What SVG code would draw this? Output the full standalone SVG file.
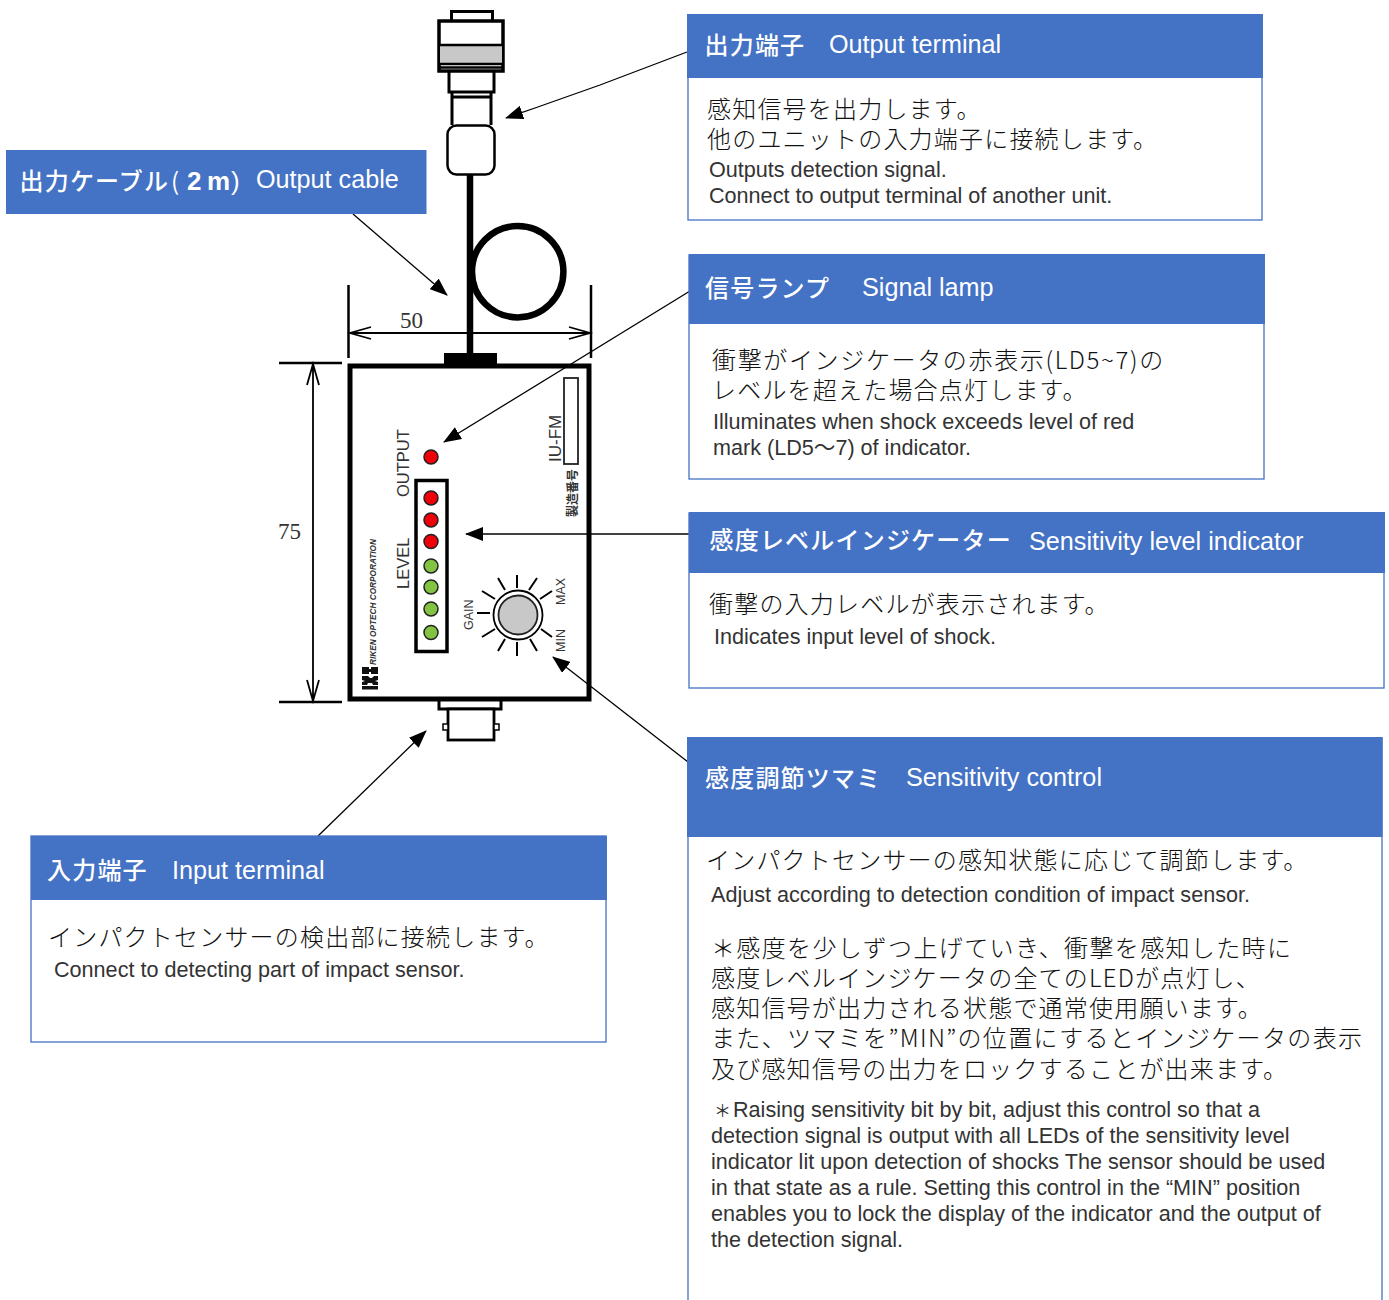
<svg xmlns="http://www.w3.org/2000/svg" width="1389" height="1300" viewBox="0 0 1389 1300">
<style>
.j{font-family:"Noto Sans CJK JP","Liberation Sans",sans-serif}
.h{font-family:"Noto Sans CJK JP","Liberation Sans",sans-serif;font-size:24px;font-weight:500;fill:#fff;letter-spacing:1.200px}
.he{font-family:"Liberation Sans",Arial,sans-serif;font-size:25.200px;fill:#fff}
.b{font-family:"Noto Sans CJK JP",sans-serif;font-size:24px;font-weight:300;fill:#111;letter-spacing:1.200px}
.e{font-family:"Liberation Sans",Arial,"Noto Sans CJK JP",sans-serif;font-size:21.600px;fill:#333}
.hd{fill:#4472c4;stroke:none}
.box{fill:#fff;stroke:#4472c4;stroke-width:1.300}
.lb{font-family:"Liberation Sans",Arial,sans-serif;fill:#333}
.dim{font-family:"Liberation Serif",serif;font-size:23px;fill:#333}
.k{fill:none;stroke:#000}
.r{fill:#f00008;stroke:#222;stroke-width:1.500}
.g{fill:#82c341;stroke:#222;stroke-width:1.500}
</style>
<defs>
<marker id="a" markerWidth="18" markerHeight="14" refX="17" refY="7" orient="auto" markerUnits="userSpaceOnUse"><path d="M0 0L18 7L0 14z" fill="#000"/></marker>
</defs>

<g id="device">
<rect x="451.500" y="11.500" width="41" height="10" class="k" stroke-width="3" fill="#fff"/>
<rect x="439" y="21" width="64" height="50" fill="#fff" stroke="#000" stroke-width="3.500"/>
<rect x="440" y="45" width="62" height="19" fill="#c8c8c8"/>
<path d="M439 45H503M439 64H503M439 67.500H503" class="k" stroke-width="2.500"/>
<path d="M449 71V92H494V71M452 92V125M491 92V125M451 97H492" class="k" stroke-width="3"/>
<rect x="447.500" y="125.500" width="47" height="49" rx="9" fill="#fff" stroke="#000" stroke-width="2.500"/>
<path d="M470 175V356" class="k" stroke-width="6.500"/>
<circle cx="517.700" cy="271.700" r="45.700" class="k" stroke-width="6.500"/>
<path d="M348.500 285V358M591 285V358" class="k" stroke-width="2.500"/>
<path d="M350 333H590M371 327L350 333L371 339M569 327L590 333L569 339" class="k" stroke-width="1.800"/>
<text x="400" y="328" class="dim">50</text>
<path d="M279 363H342M279 702H342" class="k" stroke-width="2.500"/>
<path d="M313 364V701M307 385L313 364L319 385M307 680L313 701L319 680" class="k" stroke-width="1.800"/>
<text x="278" y="539" class="dim">75</text>
<rect x="444" y="353" width="53" height="13" fill="#000"/>
<rect x="350" y="366" width="239" height="333" fill="#fff" stroke="#000" stroke-width="5"/>
<rect x="564" y="378" width="14" height="86" fill="#fff" stroke="#222" stroke-width="1.800"/>
<text transform="translate(561 462) rotate(-90)" class="lb" font-size="17">IU-FM</text>
<text transform="translate(577 517) rotate(-90)" class="j" font-size="12" font-weight="700" fill="#333">製造番号</text>
<text transform="translate(409 497) rotate(-90)" class="lb" font-size="16.500">OUTPUT</text>
<text transform="translate(409 589) rotate(-90)" class="lb" font-size="16.500">LEVEL</text>
<circle cx="431" cy="457" r="7" class="r"/>
<rect x="416" y="480.500" width="31" height="171" fill="#fff" stroke="#000" stroke-width="3.500"/>
<circle cx="431" cy="498" r="7" class="r"/><circle cx="431" cy="520" r="7" class="r"/><circle cx="431" cy="541.500" r="7" class="r"/>
<circle cx="431" cy="566" r="7" class="g"/><circle cx="431" cy="587" r="7" class="g"/><circle cx="431" cy="609" r="7" class="g"/><circle cx="431" cy="632.500" r="7" class="g"/>
<text transform="translate(473 630) rotate(-90)" class="lb" font-size="12.500">GAIN</text>
<text transform="translate(565 605) rotate(-90)" class="lb" font-size="12.500">MAX</text>
<text transform="translate(565 652) rotate(-90)" class="lb" font-size="12.500">MIN</text>
<text transform="translate(376 665) rotate(-90)" class="lb" font-size="8.500" font-style="italic" font-weight="700" textLength="126" lengthAdjust="spacingAndGlyphs">RIKEN OPTECH CORPORATION</text>
<path d="M362 667h7v2h2v-2h7v7h-7v-2h-2v2h-7zM362 676h6l2 2h2l2-2h4v4l-3 1 3 1v3h-5l-1-2h-4l-1 2h-5v-3l3-1-3-1zM362 686h16v3.500h-16z" fill="#111"/>
<path d="M517 575V588M517 642V656M477 613H490M498 578L505 590M537 578L529 590M482 591L495 599M552 591L540 599M482 637L495 629M552 637L541 629M498 651L505 639M537 651L530 639" class="k" stroke-width="2"/>
<circle cx="518" cy="615" r="24.500" fill="#fff" stroke="#000" stroke-width="1.800"/>
<circle cx="518" cy="615" r="19.500" fill="#c8c8c8" stroke="#222" stroke-width="1.800"/>
<path d="M439 701V709H501V701" class="k" stroke-width="3"/>
<rect x="448" y="709" width="46" height="31" fill="#fff" stroke="#000" stroke-width="2.800"/>
<rect x="443" y="724" width="5" height="6" fill="#fff" stroke="#000" stroke-width="1.500"/>
<rect x="494" y="724" width="5" height="6" fill="#fff" stroke="#000" stroke-width="1.500"/>
</g>

<g id="connectors" fill="none" stroke="#000" stroke-width="1.300">
<path d="M687 52L600 85L535 108L506 118" marker-end="url(#a)"/>
<path d="M353 214L447 295" marker-end="url(#a)"/>
<path d="M690 291L444 442" marker-end="url(#a)"/>
<path d="M690 534H466" marker-end="url(#a)"/>
<path d="M688 762L553 657" marker-end="url(#a)"/>
<path d="M318 836L426 731" marker-end="url(#a)"/>
</g>

<g id="cable-label">
<rect x="6" y="150" width="420.500" height="64" class="hd"/>
<text x="19.500" y="190" class="h">出力ケーブル</text>
<text y="190" class="h"><tspan x="171" font-weight="400">(</tspan></text>
<text y="190" style="font-family:'Liberation Sans',Arial,sans-serif;font-size:26px;font-weight:700;fill:#fff"><tspan x="187">2</tspan><tspan x="207">m</tspan></text>
<text x="231" y="190" style="font-family:'Liberation Sans',Arial,sans-serif;font-size:26px;fill:#fff">)</text>
<text x="256" y="188" class="he">Output cable</text>
</g>

<g id="output-terminal">
<rect x="688" y="15" width="574" height="205" class="box"/>
<rect x="687" y="14" width="576" height="64" class="hd"/>
<text x="704.500" y="54" class="h">出力端子</text>
<text x="829" y="53" class="he">Output terminal</text>
<text x="707" y="118" class="b">感知信号を出力します。</text>
<text x="707" y="148" class="b">他のユニットの入力端子に接続します。</text>
<text x="709" y="177" class="e">Outputs detection signal.</text>
<text x="709" y="203" class="e">Connect to output terminal of another unit.</text>
</g>

<g id="signal-lamp">
<rect x="689" y="255" width="575" height="224" class="box"/>
<rect x="689" y="254" width="576" height="70" class="hd"/>
<text x="705" y="297" class="h">信号ランプ</text>
<text x="862" y="296" class="he">Signal lamp</text>
<text x="712" y="369" class="b" style="letter-spacing:1.650px">衝撃がインジケータの赤表示(LD5~7)の</text>
<text x="712" y="399" class="b">レベルを超えた場合点灯します。</text>
<text x="713" y="429" class="e">Illuminates when shock exceeds level of red</text>
<text x="713" y="455" class="e">mark (LD5〜7) of indicator.</text>
</g>

<g id="level-indicator">
<rect x="689" y="513" width="695" height="175" class="box"/>
<rect x="689" y="512" width="696" height="61" class="hd"/>
<text x="709.500" y="549" class="h">感度レベルインジケーター</text>
<text x="1029" y="550" class="he">Sensitivity level indicator</text>
<text x="709" y="613" class="b">衝撃の入力レベルが表示されます。</text>
<text x="714" y="644" class="e">Indicates input level of shock.</text>
</g>

<g id="sensitivity-control">
<rect x="688" y="738" width="694" height="570" class="box"/>
<rect x="687" y="737" width="695.500" height="100" class="hd"/>
<text x="705" y="787" class="h">感度調節ツマミ</text>
<text x="906" y="786" class="he">Sensitivity control</text>
<text x="706" y="869" class="b">インパクトセンサーの感知状態に応じて調節します。</text>
<text x="711" y="902" class="e">Adjust according to detection condition of impact sensor.</text>
<text x="711" y="957" class="b" style="letter-spacing:1.370px">＊感度を少しずつ上げていき、衝撃を感知した時に</text>
<text x="711" y="987" class="b">感度レベルインジケータの全てのLEDが点灯し、</text>
<text x="711" y="1017" class="b">感知信号が出力される状態で通常使用願います。</text>
<text x="711" y="1047" class="b" style="letter-spacing:1.350px">また、ツマミを”MIN”の位置にするとインジケータの表示</text>
<text x="711" y="1078" class="b">及び感知信号の出力をロックすることが出来ます。</text>
<text y="1117" class="e"><tspan x="714" font-size="17">＊</tspan><tspan x="733">Raising sensitivity bit by bit, adjust this control so that a</tspan></text>
<text x="711" y="1143" class="e">detection signal is output with all LEDs of the sensitivity level</text>
<text x="711" y="1169" class="e">indicator lit upon detection of shocks The sensor should be used</text>
<text x="711" y="1195" class="e">in that state as a rule. Setting this control in the “MIN” position</text>
<text x="711" y="1221" class="e">enables you to lock the display of the indicator and the output of</text>
<text x="711" y="1247" class="e">the detection signal.</text>
</g>

<g id="input-terminal">
<rect x="31" y="836" width="575" height="206" class="box"/>
<rect x="31" y="836" width="576" height="64" class="hd"/>
<text x="47" y="879" class="h">入力端子</text>
<text x="172" y="879" class="he">Input terminal</text>
<text x="48" y="946" class="b">インパクトセンサーの検出部に接続します。</text>
<text x="54" y="977" class="e">Connect to detecting part of impact sensor.</text>
</g>
</svg>
